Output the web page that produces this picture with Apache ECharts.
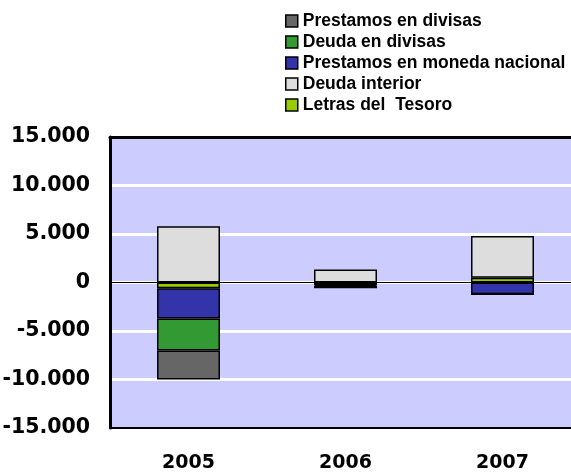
<!DOCTYPE html>
<html>
<head>
<meta charset="utf-8">
<title>Financiacion</title>
<script src="https://cdn.jsdelivr.net/npm/echarts@6/dist/echarts.min.js"></script>
<style>
	html, body { margin: 0; padding: 0; background: #fff; }
	#chart { width: 571px; height: 475px; }
</style>
</head>
<body>
<div id="chart"></div>
<script>
// años
var categorias = ['2005', '2006', '2007'];
// valores por instrumento
var prestamosDivisas = [-3000, -250, 0];
var deudaDivisas = [-3300, -100, 0];
var prestamosNacional = [-3100, -200, -1200];
var deudaInterior = [5800, 1350, 4300];
var letrasTesoro = [-600, -50, 500];
// eje vertical
var yMin = -15000;
var yMax = 15000;
var yPaso = 5000;

var fuente = 'DejaVu Sans';

function miles(v) {
	var s = String(Math.abs(v)).replace(/\B(?=(\d{3})+(?!\d))/g, '.');
	return (v < 0 ? '-' : '') + s;
}

var borde = { borderColor: '#000', borderWidth: 1.5 };

var myChart = echarts.init(document.getElementById('chart'), null, { renderer: 'canvas' });
var option = {
	animation: false,
	legend: {
		orient: 'vertical',
		left: 280,
		top: 7,
		icon: 'rect',
		itemWidth: 12,
		itemHeight: 12,
		itemGap: 3,
		itemStyle: { borderColor: '#000', borderWidth: 1.5 },
		textStyle: {
			fontFamily: 'Liberation Sans',
			fontWeight: 'bold',
			fontSize: 17.5,
			lineHeight: 18,
			color: '#000'
		},
		data: ['Prestamos en divisas', 'Deuda en divisas', 'Prestamos en moneda nacional', 'Deuda interior', 'Letras del  Tesoro']
	},
	// el area pasa del borde derecho
	grid: {
		left: 110,
		top: 137,
		width: 471,
		height: 291,
		outerBoundsMode: 'none',
		containLabel: false,
		show: true,
		backgroundColor: '#CCCCFF',
		borderWidth: 0
	},
	xAxis: [{
		type: 'category',
		data: categorias,
		axisLine: { onZero: false, lineStyle: { color: '#000', width: 2 } },
		axisTick: { show: false },
		axisLabel: {
			margin: 26,
			fontFamily: fuente,
			fontWeight: 'bold',
			fontSize: 19,
			color: '#000'
		}
	}, {
		type: 'category',
		position: 'top',
		data: categorias,
		axisLine: { onZero: false, lineStyle: { color: '#000', width: 3 } },
		axisTick: { show: false },
		axisLabel: { show: false }
	}],
	yAxis: {
		type: 'value',
		min: yMin,
		max: yMax,
		interval: yPaso,
		axisLine: { show: true, lineStyle: { color: '#000', width: 3 } },
		axisTick: { show: false },
		splitLine: { show: true, lineStyle: { color: '#fff', width: 3 } },
		axisLabel: {
			margin: 20,
			fontFamily: fuente,
			fontWeight: 'bold',
			fontSize: 20.5,
			color: '#000',
			formatter: miles
		}
	},
	series: [
		{
			name: 'Letras del  Tesoro', type: 'bar', stack: 'total', barWidth: 63,
			itemStyle: Object.assign({ color: '#99CC00' }, borde),
			data: letrasTesoro,
			markLine: {
				silent: true, symbol: 'none', label: { show: false },
				lineStyle: { color: '#000', width: 1, type: 'solid' },
				data: [{ yAxis: 0 }]
			}
		},
		{
			name: 'Prestamos en moneda nacional', type: 'bar', stack: 'total', barWidth: 63,
			itemStyle: Object.assign({ color: '#3333AA' }, borde),
			data: prestamosNacional
		},
		{
			name: 'Deuda en divisas', type: 'bar', stack: 'total', barWidth: 63,
			itemStyle: Object.assign({ color: '#339933' }, borde),
			data: deudaDivisas
		},
		{
			name: 'Prestamos en divisas', type: 'bar', stack: 'total', barWidth: 63,
			itemStyle: Object.assign({ color: '#666666' }, borde),
			data: prestamosDivisas
		},
		{
			name: 'Deuda interior', type: 'bar', stack: 'total', barWidth: 63,
			itemStyle: Object.assign({ color: '#DDDDDD' }, borde),
			data: deudaInterior
		}
	]
};
myChart.setOption(option);
</script>
</body>
</html>
